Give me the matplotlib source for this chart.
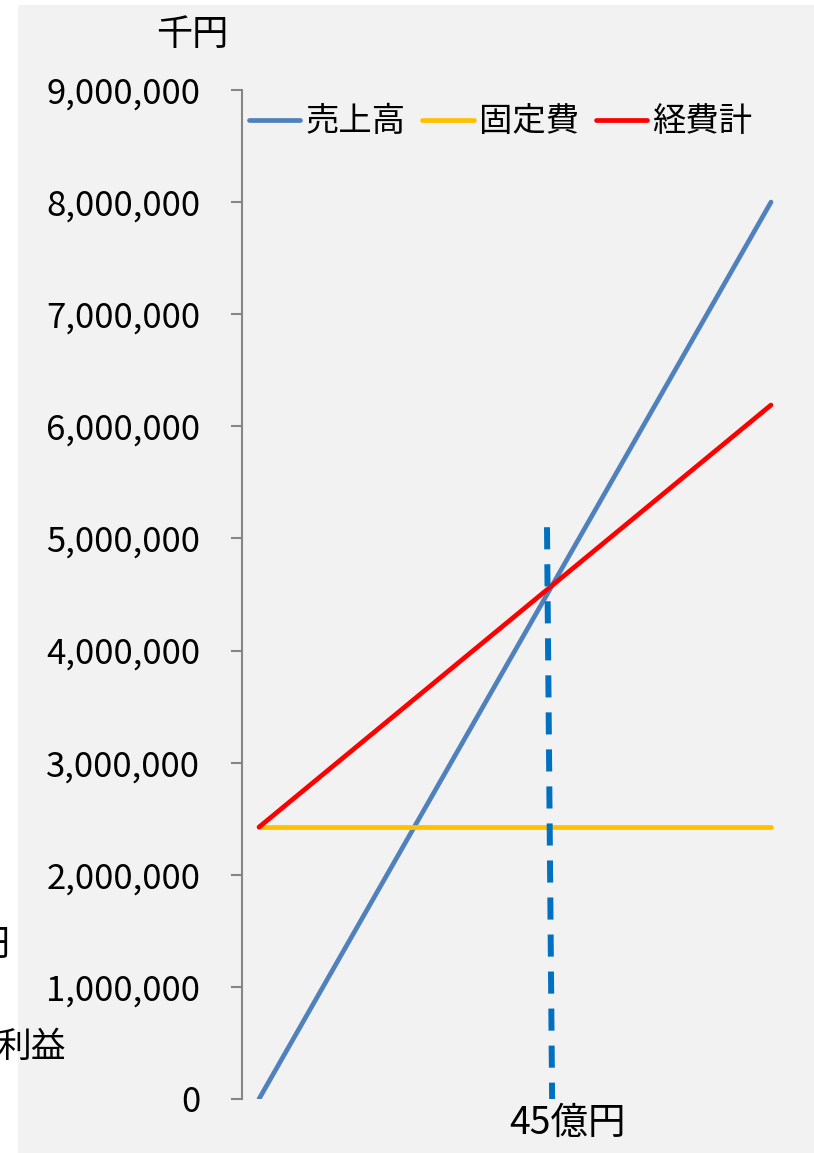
import matplotlib.pyplot as plt
from matplotlib.patches import Rectangle
from matplotlib.ticker import FuncFormatter

plt.rcParams['font.family'] = ['Noto Sans CJK JP', 'DejaVu Sans']

# data (千円)
x_points = [0, 8000000]
sales = [0, 8000000]
fixed_cost = [2425000, 2425000]
total_cost = [2425000, 6190000]
breakeven_x = [4500000, 4580000]
breakeven_y = [5100000, 0]
series_names = ['売上高', '固定費', '経費計']
colors = ['#4f81bd', '#ffc000', '#ff0000']

W, H = 814, 1153
fig = plt.figure(figsize=(W / 100, H / 100), dpi=100)
fig.patch.set_facecolor('white')
# gray chart area
fig.patches.append(Rectangle((18 / W, 0), 1 - 18 / W, 1 - 5 / H,
                             transform=fig.transFigure, facecolor='#f2f2f2',
                             edgecolor='none', zorder=-5))

ax = fig.add_axes([242 / W, (H - 1099) / H, (788 - 242) / W, (1099 - 90) / H])
ax.set_facecolor('none')

ax.plot(x_points, sales, color=colors[0], lw=3.4, label=series_names[0],
        solid_capstyle='round')
ax.plot(x_points, fixed_cost, color=colors[1], lw=3.4, label=series_names[1],
        solid_capstyle='round')
ax.plot(x_points, total_cost, color=colors[2], lw=3.4, label=series_names[2],
        solid_capstyle='round')
ax.plot(breakeven_x, breakeven_y, color='#0070c0', lw=4.3,
        dashes=(3.7, 2.5), dash_capstyle='butt')

pad = 8000000 * 17 / 512
ax.set_xlim(-pad, 8000000 + pad)
ax.set_ylim(0, 9000000)
ax.set_yticks(range(0, 9000001, 1000000))
ax.yaxis.set_major_formatter(FuncFormatter(lambda v, p: '{:,.0f}'.format(v)))
ax.set_xticks([])

for s in ['top', 'right', 'bottom']:
    ax.spines[s].set_visible(False)
ax.spines['left'].set_color('#868686')
ax.spines['left'].set_linewidth(1.5)
ax.tick_params(axis='y', length=8, width=1.5, color='#868686', labelsize=25,
               pad=22, labelcolor='black')

leg = ax.legend(loc='upper left', bbox_to_anchor=(0.006, 0.989), ncol=3, frameon=False,
                fontsize=24, handlelength=1.55, handletextpad=0.15,
                columnspacing=0.5, borderaxespad=0.0, borderpad=0.1)

# labels
fig.text(192 / W, 1 - 35 / H, '千円', fontsize=26, ha='center', va='center')
ax.text((567 - 259) / 512 * 8000000, -0.024, '45億円', fontsize=27,
        ha='center', va='center', transform=ax.get_xaxis_transform())
fig.text(10 / W, 1 - 945 / H, '円', fontsize=26, ha='right', va='center')
fig.text(66 / W, 1 - 1047 / H, '利益', fontsize=25, ha='right', va='center')

fig.savefig('out.png', dpi=100, facecolor=fig.get_facecolor())
